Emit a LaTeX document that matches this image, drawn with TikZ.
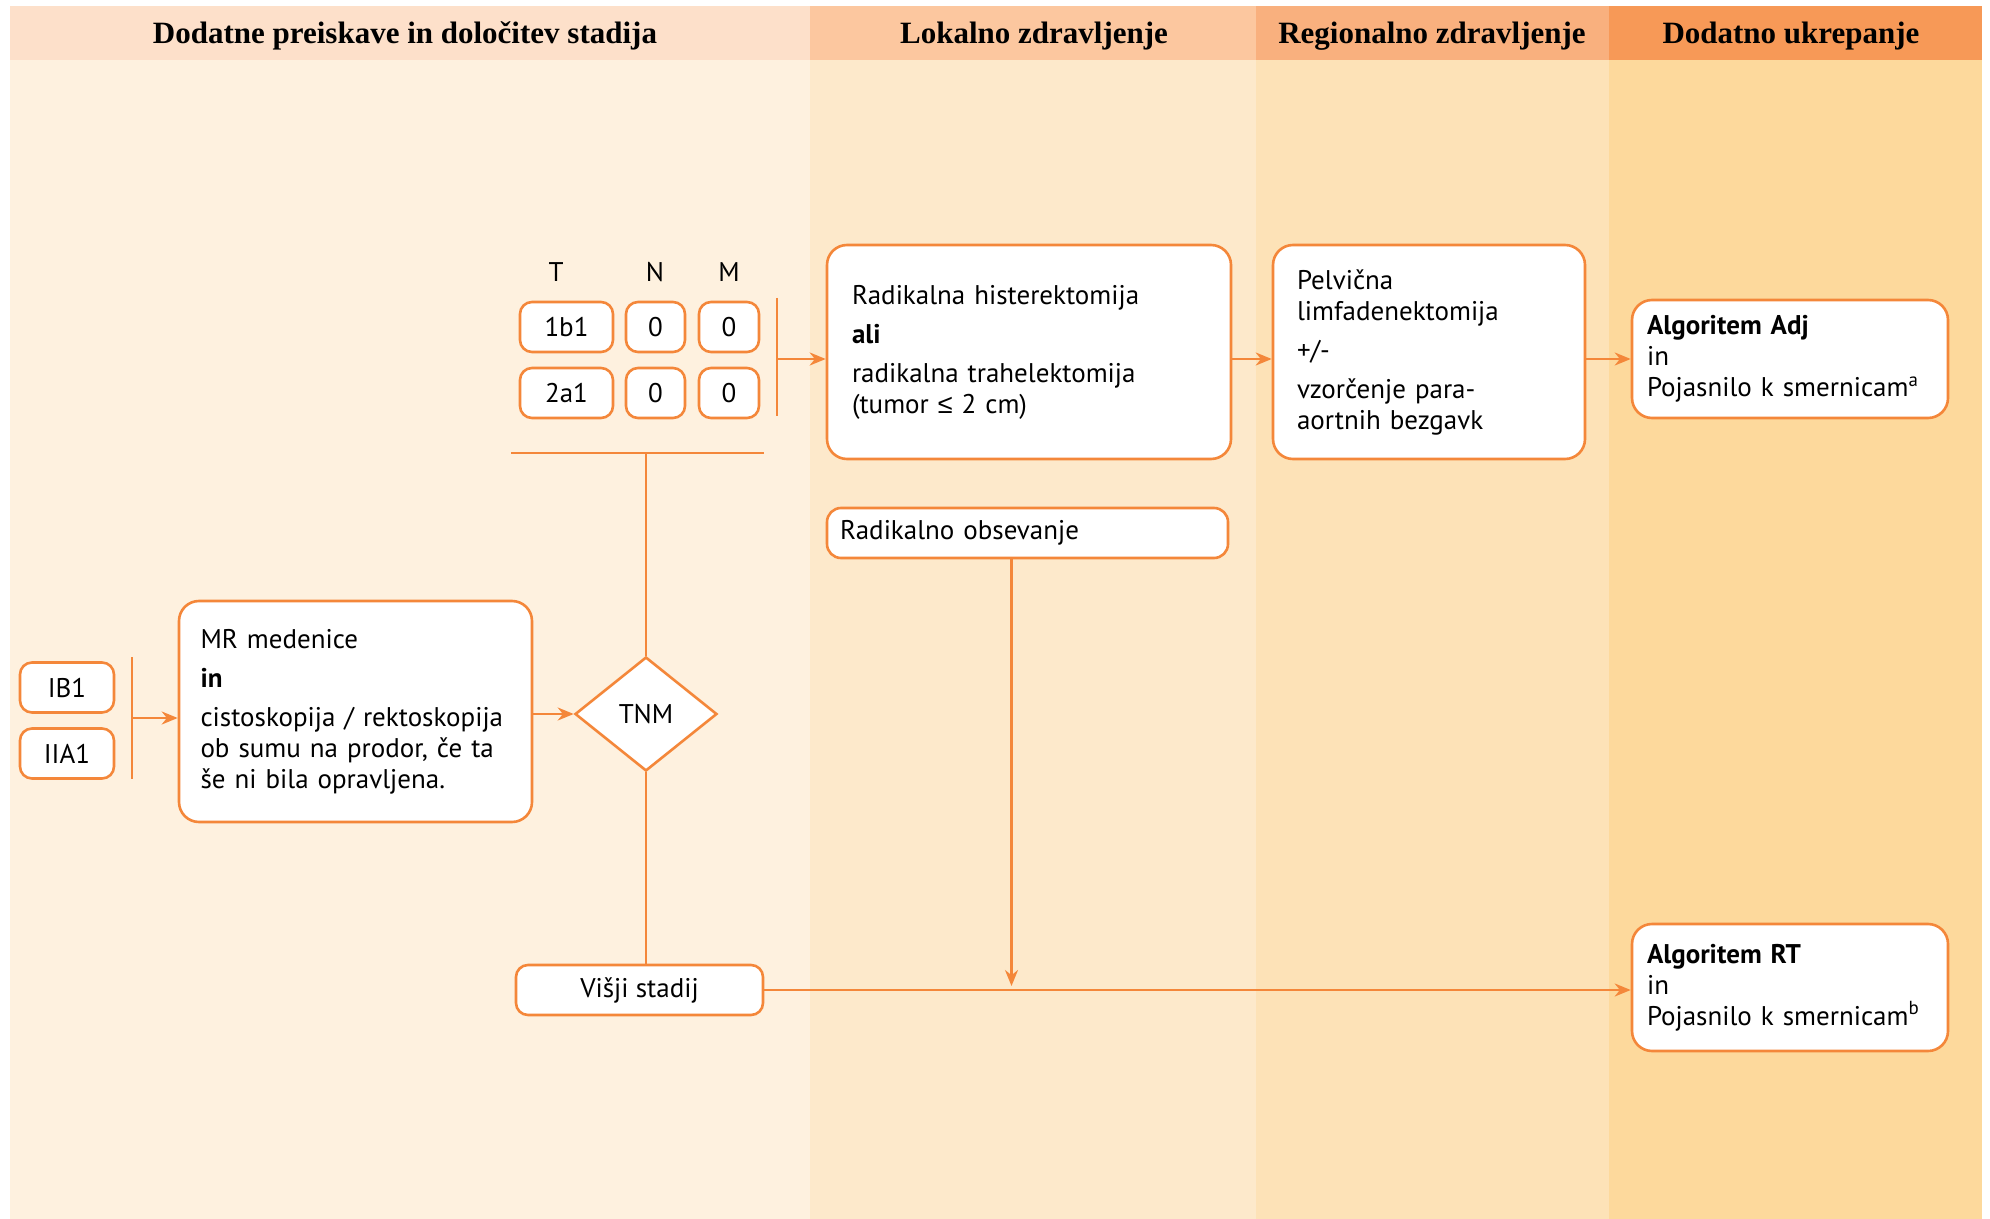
\documentclass[tikz,border=0pt]{standalone}
\usepackage{fontspec}
\setmainfont{PT Sans}
\newfontfamily\headfont{Liberation Serif}
\newfontfamily\symfont{Liberation Sans}
\usetikzlibrary{calc,positioning,shapes.geometric,arrows.meta}
\definecolor{lineor}{HTML}{F4873A}
\definecolor{hdA}{HTML}{FDE0CA}
\definecolor{hdB}{HTML}{FCC79F}
\definecolor{hdC}{HTML}{F9B07E}
\definecolor{hdD}{HTML}{F79957}
\definecolor{bgA}{HTML}{FEF1DF}
\definecolor{bgB}{HTML}{FDE9CB}
\definecolor{bgC}{HTML}{FDE2B7}
\definecolor{bgD}{HTML}{FDD99C}
\newcommand{\txt}{\fontsize{13.5}{15.5}\selectfont}

\begin{document}
\begin{tikzpicture}[x=0.5pt,y=-0.5pt,
  box/.style={draw=lineor,line width=1.3pt,fill=white,rounded corners=10pt,align=left,font=\txt},
  tag/.style={draw=lineor,line width=1.3pt,fill=white,rounded corners=6pt,minimum height=25pt,inner sep=0pt,font=\txt},
  head/.style={font=\headfont\bfseries\fontsize{15.5}{17}\selectfont},
  link/.style={draw=lineor,line width=1.2pt},
  arr/.style={link,-{Stealth[length=8pt,width=6.5pt]}}]

\useasboundingbox (0,0) rectangle (1990,1219);
\fill[bgA] (10,60) rectangle (810,1219);
\fill[bgB] (810,60) rectangle (1256,1219);
\fill[bgC] (1256,60) rectangle (1609,1219);
\fill[bgD] (1609,60) rectangle (1982,1219);
\fill[hdA] (10,6) rectangle (810,60);
\fill[hdB] (810,6) rectangle (1256,60);
\fill[hdC] (1256,6) rectangle (1609,60);
\fill[hdD] (1609,6) rectangle (1982,60);
\node[head] (H1) at (405,36) {Dodatne preiskave in določitev stadija};
\node[head] (H2) at (1034,36) {Lokalno zdravljenje};
\node[head] (H3) at (1432,36) {Regionalno zdravljenje};
\node[head] (H4) at (1791,36) {Dodatno ukrepanje};

\node[tag,minimum width=47pt] (ib) at (67,687.5) {IB1};
\node[tag,minimum width=47pt] (iia) at (67,753.5) {IIA1};
\node[box,minimum height=110.5pt,text width=155pt,inner xsep=10.75pt] (mr) at (355.5,711.5)
  {MR medenice\\[4pt]\textbf{in}\\[4pt]cistoskopija / rektoskopija\\ob sumu na prodor, če ta\\še ni bila opravljena.};
\node[draw=lineor,line width=1.3pt,fill=white,diamond,minimum width=71pt,minimum height=57pt,inner sep=0pt,font=\txt] (tnm) at (646,714) {TNM};

\node[font=\txt] (lT) at (556,272) {T};
\node[font=\txt] (lN) at (655,272) {N};
\node[font=\txt] (lM) at (729,272) {M};
\node[tag,minimum width=46.5pt] (t1) at (566.5,327) {1b1};
\node[tag,minimum width=29.5pt] (n1) at (655.5,327) {0};
\node[tag,minimum width=30pt] (m1) at (729,327) {0};
\node[tag,minimum width=46.5pt] (t2) at (566.5,393) {2a1};
\node[tag,minimum width=29.5pt] (n2) at (655.5,393) {0};
\node[tag,minimum width=30pt] (m2) at (729,393) {0};

\node[box,minimum height=107pt,text width=177pt,inner xsep=12.5pt] (rad) at (1029,352)
  {Radikalna histerektomija\\[4pt]\textbf{ali}\\[4pt]radikalna trahelektomija\\(tumor {\symfont ≤} 2 cm)};
\node[box,minimum height=25pt,text width=187.5pt,inner xsep=6.5pt,inner ysep=0pt,rounded corners=7pt] (obs) at (1027.5,533) {Radikalno obsevanje};
\node[box,minimum height=107pt,text width=132pt,inner xsep=12pt] (pel) at (1429,352)
  {Pelvična\\limfadenektomija\\[4pt]+/-\\[4pt]vzorčenje para-\\aortnih bezgavk};
\node[box,minimum height=59pt,text width=143pt,inner xsep=7.5pt] (adj) at (1790,359)
  {\textbf{Algoritem Adj}\\in\\Pojasnilo k smernicam\textsuperscript{a}};
\node[tag,minimum width=123.5pt] (visji) at (639.5,990) {Višji stadij};
\node[box,minimum height=63.5pt,text width=143pt,inner xsep=7.5pt] (rt) at (1790,987.5)
  {\textbf{Algoritem RT}\\in\\Pojasnilo k smernicam\textsuperscript{b}};

\coordinate (ibT) at (132,657);
\coordinate (ibB) at (132,779);
\coordinate (ibM) at (132,718);
\draw[link] (ibT) -- (ibB);
\draw[arr] (ibM) -- (mr.west |- ibM);
\draw[arr] (tnm.west -| mr.east) -- (tnm.west);

\coordinate (tnmT) at (777,298);
\coordinate (tnmB) at (777,416);
\coordinate (tnmM) at (777,359);
\draw[link] (tnmT) -- (tnmB);
\draw[arr] (tnmM) -- (rad.west |- tnmM);
\draw[arr] (rad.east |- tnmM) -- (pel.west |- tnmM);
\draw[arr] (pel.east |- tnmM) -- (adj.west |- tnmM);

\coordinate (splitL) at (511,453);
\coordinate (splitR) at (764,453);
\draw[link] (splitL) -- (splitR);
\draw[link] (tnm.north) -- (tnm.north |- splitL);
\draw[link] (tnm.south) -- (visji.north -| tnm.south);
\draw[arr] (visji.east) -- (rt.west |- visji.east);
\coordinate (obsD) at ($(obs.south)+(-16,0)$);
\draw[arr,shorten >=2pt] (obsD) -- (obsD |- visji.east);
\end{tikzpicture}
\end{document}
